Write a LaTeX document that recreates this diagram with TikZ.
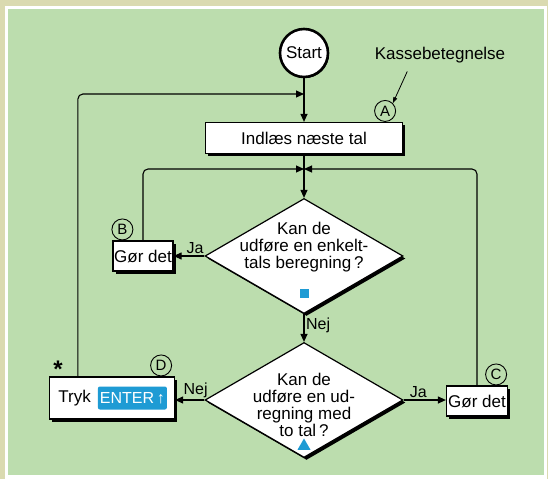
\documentclass[tikz,border=0pt]{standalone}
\usepackage{fontspec}
\setmainfont{Liberation Sans}
\usepackage{tikz}
\usetikzlibrary{arrows.meta,positioning,shapes.geometric,shadows}
\definecolor{panelgreen}{RGB}{188,221,174}
\definecolor{framebeige}{RGB}{218,218,176}
\definecolor{keyblue}{RGB}{30,155,212}

\begin{document}
\begin{tikzpicture}[x=1pt,y=-1pt,>={Triangle[length=8pt,width=7pt]},
  every node/.style={align=center,font=\fontsize{17}{17}\selectfont},
  flow/.style={->,line width=1.1pt},
  backline/.style={->,line width=1.1pt,rounded corners=5pt},
  box/.style={draw,line width=1.2pt,fill=white,inner sep=2pt,
    drop shadow={shadow xshift=2.5pt,shadow yshift=-2.5pt,opacity=1,fill=black}},
  decision/.style={diamond,draw,line width=1.2pt,fill=white,inner sep=0pt,
    minimum width=198pt,minimum height=115pt,
    drop shadow={shadow xshift=2.5pt,shadow yshift=-2.5pt,opacity=1,fill=black}},
  tagmark/.style={circle,draw,line width=0.9pt,inner sep=0pt,minimum size=21pt,
    font=\fontsize{15}{15}\selectfont},
  keycap/.style={fill=keyblue,text=white,rounded corners=2pt,inner sep=1.5pt,
    minimum width=69pt,minimum height=23pt,font=\fontsize{16}{16}\selectfont},
  answer/.style={inner sep=1.5pt,font=\fontsize{16}{16}\selectfont}]

  % frame
  \useasboundingbox (0,0) rectangle (548,479);
  \fill[framebeige] (0,0) rectangle (548,479);
  \fill[white] (5,6) rectangle (547,479);
  \fill[panelgreen] (8,9) rectangle (544,475);

  % boxes
  \node[circle,draw,fill=white,line width=2.6pt,minimum size=48pt,inner sep=0pt,
    drop shadow={shadow xshift=1pt,shadow yshift=-1pt,opacity=1,fill=black}] (start) at (304,53) {Start};
  \node[box,minimum width=197pt,minimum height=31pt] (read) at (304,138) {Indlæs næste tal};
  \node[decision] (q1) at (304,256) {};
  \node[decision] (q2) at (304,400) {};
  \node[box,minimum width=60pt,minimum height=30pt,inner sep=1pt] (doB) at (143,256) {Gør det};
  \node[box,minimum width=61pt,minimum height=30pt,inner sep=1pt] (doC) at (477,401) {Gør det};
  \node[box,minimum width=125pt,minimum height=42pt] (press) at (112,398) {};
  \node[anchor=west] (tryk) at ([xshift=6pt]press.west) {Tryk};
  \node[keycap,left=8pt of press.east] (enter) {ENTER\,{\bfseries ↑}};

  % texts in the decisions
  \node (q1text) at ([yshift=9pt]q1.center) {Kan de\\udføre en enkelt-\\tals beregning\,?};
  \node (q2text) at ([yshift=-5pt]q2.center) {Kan de\\udføre en ud-\\regning med\\to tal\,?};
  \node[fill=keyblue,inner sep=0pt,minimum size=9pt] (sqmark) at ([yshift=-37pt]q1.center) {};
  \node[regular polygon,regular polygon sides=3,fill=keyblue,inner sep=0pt,minimum size=15pt] (trimark) at ([yshift=-46pt]q2.center) {};

  % box labels
  \node[tagmark,anchor=south] (tagA) at ([xshift=-18pt]read.north east) {A};
  \node[tagmark,anchor=south] (tagB) at ([xshift=10pt]doB.north west) {B};
  \node[tagmark,anchor=south] (tagC) at ([xshift=-12pt]doC.north east) {C};
  \node[tagmark,anchor=south] (tagD) at ([xshift=-14pt]press.north east) {D};
  \node[font=\fontsize{24}{24}\bfseries\selectfont] (star) at (58,369) {*};
  \node (legend) at (440,55) {Kassebetegnelse};
  \draw[->,line width=0.8pt,>={Triangle[length=6pt,width=4pt]}] ([xshift=36pt,yshift=-5pt]legend.south west) -- (tagA.north east);

  % connectors
  \coordinate (topjoin) at (304,94);
  \coordinate (midjoin) at (304,169);
  \draw[flow] (start) -- (read);
  \draw[flow] (read) -- (q1);
  \draw[flow] (q1) -- node[answer,right,pos=0.4]{Nej} (q2);
  \draw[flow] (q1.west) -- node[answer,above,pos=0.3]{Ja} (q1.west -| doB.east);
  \draw[flow] (q2.west) -- node[answer,above,pos=0.3]{Nej} (q2.west -| press.east);
  \draw[flow] (q2.east) -- node[answer,above,pos=0.35]{Ja} (q2.east -| doC.west);
  \draw[backline] ([xshift=29pt]press.north west) |- (topjoin);
  \draw[backline] (doB.north) |- (midjoin);
  \draw[backline] (doC.north) |- (midjoin);
\end{tikzpicture}
\end{document}
